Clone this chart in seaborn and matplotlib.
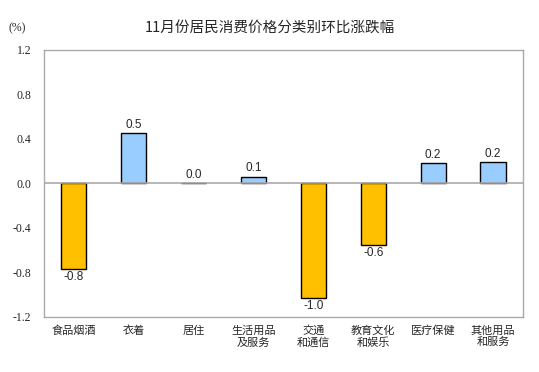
import matplotlib
matplotlib.use("Agg")
import matplotlib.pyplot as plt
import seaborn as sns
import pandas as pd

categories = ["食品烟酒", "衣着", "居住", "生活用品\n及服务", "交通\n和通信", "教育文化\n和娱乐", "医疗保健", "其他用品\n和服务"]
values = [-0.77, 0.45, 0.0, 0.06, -1.03, -0.55, 0.18, 0.19]
labels = ["-0.8", "0.5", "0.0", "0.1", "-1.0", "-0.6", "0.2", "0.2"]
yticks = [1.2, 0.8, 0.4, 0.0, -0.4, -0.8, -1.2]
title = "11月份居民消费价格分类别环比涨跌幅"

sns.set_theme(style="white")
plt.rcParams["font.family"] = ["Noto Sans CJK SC", "DejaVu Sans"]

df = pd.DataFrame({"cat": categories, "val": values})
df["sign"] = ["neg" if v < 0 else "pos" for v in values]

fig = plt.figure(figsize=(5.39, 3.72), dpi=100)
ax = fig.add_axes([0.0816, 0.148, 0.8887, 0.718])
sns.barplot(data=df, x="cat", y="val", hue="sign", order=categories,
            palette={"neg": "#FFC000", "pos": "#99CCFF"}, dodge=False, saturation=1,
            width=0.42, edgecolor="black", linewidth=1.0, legend=False, ax=ax)

ax.set_ylim(-1.2, 1.2)
ax.set_xlim(-0.5, len(categories) - 0.5)
ax.set_yticks(yticks)
ax.set_yticklabels([f"{t:.1f}" for t in yticks], family="Liberation Serif", fontsize=8.5)
ax.tick_params(axis="y", length=3, color="#999999", direction="in", pad=9)
ax.tick_params(axis="x", length=0, pad=6)
for lbl in ax.get_xticklabels():
    lbl.set_fontsize(8)
    lbl.set_linespacing(1.2)
    lbl.set_verticalalignment("top")
ax.set_xlabel("")
ax.set_ylabel("")
ax.axhline(0, color="#AAAAAA", linewidth=1.2, zorder=5)
for s in ax.spines.values():
    s.set_color("#AAAAAA")
    s.set_linewidth(1.0)

for i, (v, t) in enumerate(zip(values, labels)):
    if v < 0:
        ax.text(i, v - 0.02, t, ha="center", va="top", fontsize=8.5, family="Liberation Sans")
    else:
        ax.text(i, v + 0.02, t, ha="center", va="bottom", fontsize=8.5, family="Liberation Sans")

fig.text(0.50, 0.925, title, ha="center", va="center", fontsize=10.5)
fig.text(0.032, 0.925, "(%)", ha="center", va="center", fontsize=8.5, family="Liberation Serif")

fig.savefig("out.png", dpi=100)
